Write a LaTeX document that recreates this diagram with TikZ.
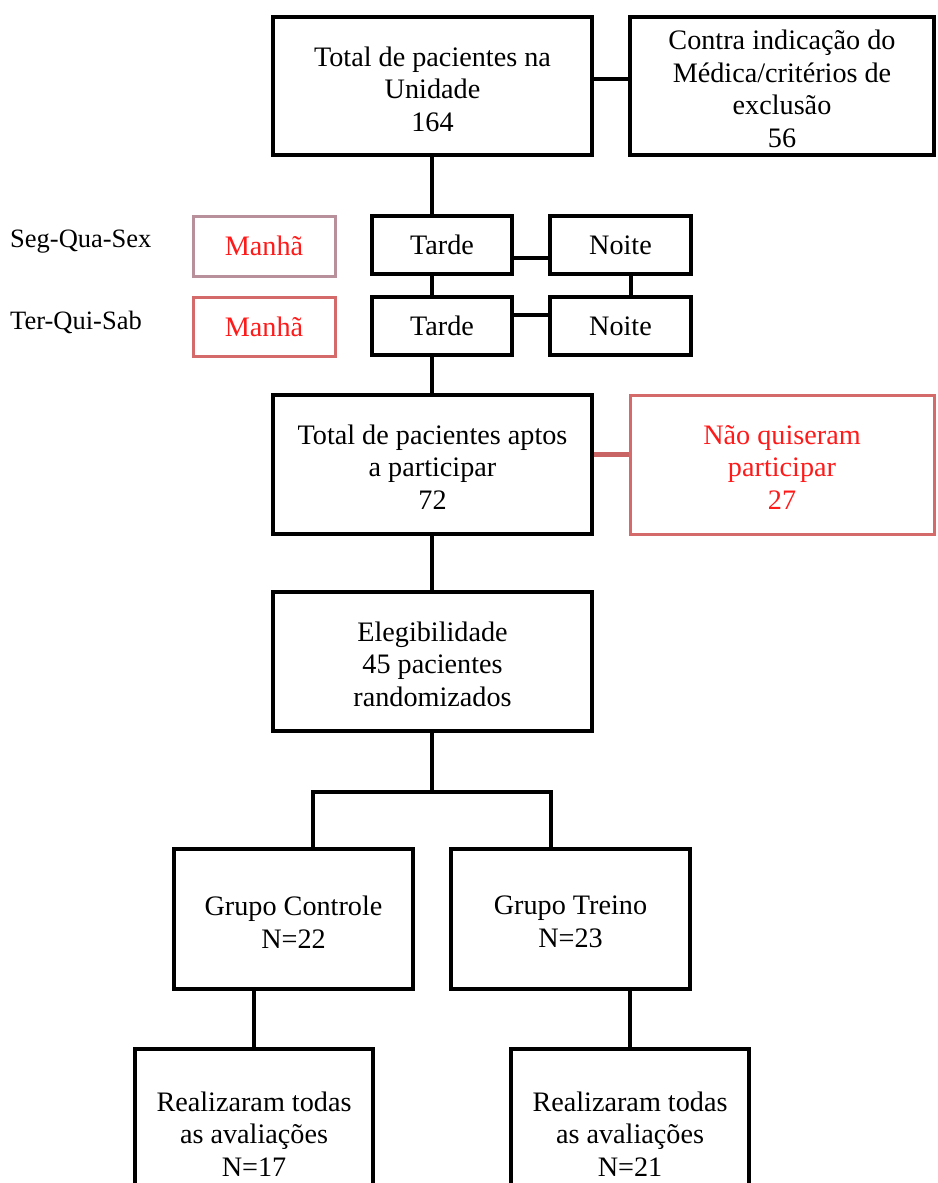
\documentclass[tikz,border=0pt]{standalone}
\usepackage{fontspec}
\setmainfont{Liberation Serif}
\usetikzlibrary{calc}
\definecolor{txtred}{HTML}{FF1A1A}
\definecolor{pinkgrey}{HTML}{B8909C}
\definecolor{boxred}{HTML}{D46A6A}
\definecolor{linkred}{HTML}{C86464}
\begin{document}
\begin{tikzpicture}[x=1pt,y=-1pt,
  every node/.style={font=\fontsize{28.2}{32.5}\selectfont, align=center, inner sep=0pt},
  bbox/.style={draw=black, line width=4pt, rectangle},
  redbox/.style={draw=boxred, line width=3pt, rectangle, text=txtred},
  pinkbox/.style={draw=pinkgrey, line width=3pt, rectangle, text=txtred},
  conn/.style={draw=black, line width=4pt},
  redconn/.style={draw=linkred, line width=5pt},
  lab/.style={anchor=west, font=\fontsize{26.5}{31}\selectfont}]
\useasboundingbox (0,0) rectangle (937,1183);
\clip (0,0) rectangle (937,1183);
% top row
\node[bbox, minimum width=319, minimum height=138] (b1) at (432.5,86) {};
\node (b1t) at (432.5,89) {Total de pacientes na\\Unidade\\164};
\node[bbox, minimum width=304, minimum height=138] (b2) at (782,86) {};
\node (b2t) at (782,89) {Contra indicação do\\Médica/critérios de\\exclusão\\56};
% shifts
\node[lab] (l1) at (10,242) {Seg-Qua-Sex};
\node[lab] (l2) at (10,322) {Ter-Qui-Sab};
\node[pinkbox, minimum width=142, minimum height=60] (m1) at (264,246) {Manhã};
\node[redbox, minimum width=142, minimum height=59] (m2) at (264,326.5) {Manhã};
\node[bbox, minimum width=140, minimum height=58] (t1) at (442,245) {Tarde};
\node[bbox, minimum width=141, minimum height=58] (n1) at (620.5,245) {Noite};
\node[bbox, minimum width=140, minimum height=58] (t2) at (442,326) {Tarde};
\node[bbox, minimum width=141, minimum height=58] (n2) at (620.5,326) {Noite};
% aptos
\node[bbox, minimum width=319, minimum height=139] (b3) at (432.5,464.5) {};
\node (b3t) at (432.5,467) {Total de pacientes aptos\\a participar\\72};
\node[redbox, minimum width=304, minimum height=139] (b4) at (782,464.5) {};
\node[text=txtred] (b4t) at (782,467) {Não quiseram\\participar\\27};
% eligibility
\node[bbox, minimum width=319, minimum height=139] (b5) at (432.5,661.5) {};
\node (b5t) at (432.5,664) {Elegibilidade\\45 pacientes\\randomizados};
% groups
\node[bbox, minimum width=239, minimum height=140] (gc) at (293.5,919) {};
\node (gct) at (293.5,922) {Grupo Controle\\N=22};
\node[bbox, minimum width=239, minimum height=140] (gt) at (570.5,919) {};
\node (gtt) at (570.5,922) {Grupo Treino\\N=23};
% final
\node[bbox, minimum width=238, minimum height=176] (r1) at (254,1137) {};
\node[bbox, minimum width=238, minimum height=176] (r2) at (630,1137) {};
\node (r1t) at (254,1134) {Realizaram todas\\as avaliações\\N=17};
\node (r2t) at (630,1134) {Realizaram todas\\as avaliações\\N=21};
\coordinate (fork) at (432,792);
\coordinate (forkL) at (313,792);
\coordinate (forkR) at (551,792);
% connectors
\draw[conn] ($(b1.east)+(0,-7)$) -- ($(b2.west)+(0,-7)$);
\draw[conn] (b1.south -| fork) -- (t1.north -| fork);
\draw[conn] ($(t1.east)+(0,13)$) -- ($(n1.west)+(0,13)$);
\draw[conn] ($(t2.east)+(0,-11)$) -- ($(n2.west)+(0,-11)$);
\draw[conn] (t1.south -| fork) -- (t2.north -| fork);
\draw[conn] ($(n1.south)+(10.5,0)$) -- ($(n2.north)+(10.5,0)$);
\draw[conn] (t2.south -| fork) -- (b3.north -| fork);
\draw[redconn] ($(b3.east)+(0,-10)$) -- ($(b4.west)+(0,-10)$);
\draw[conn] (b3.south -| fork) -- (b5.north -| fork);
\draw[conn, line join=miter] (b5.south -| fork) -- (fork);
\draw[conn, line join=miter] (gc.north -| forkL) -- (forkL) -- (forkR) -- (gt.north -| forkR);
\draw[conn] (gc.south -| r1.north) -- (r1.north);
\draw[conn] (gt.south -| r2.north) -- (r2.north);
\end{tikzpicture}
\end{document}
